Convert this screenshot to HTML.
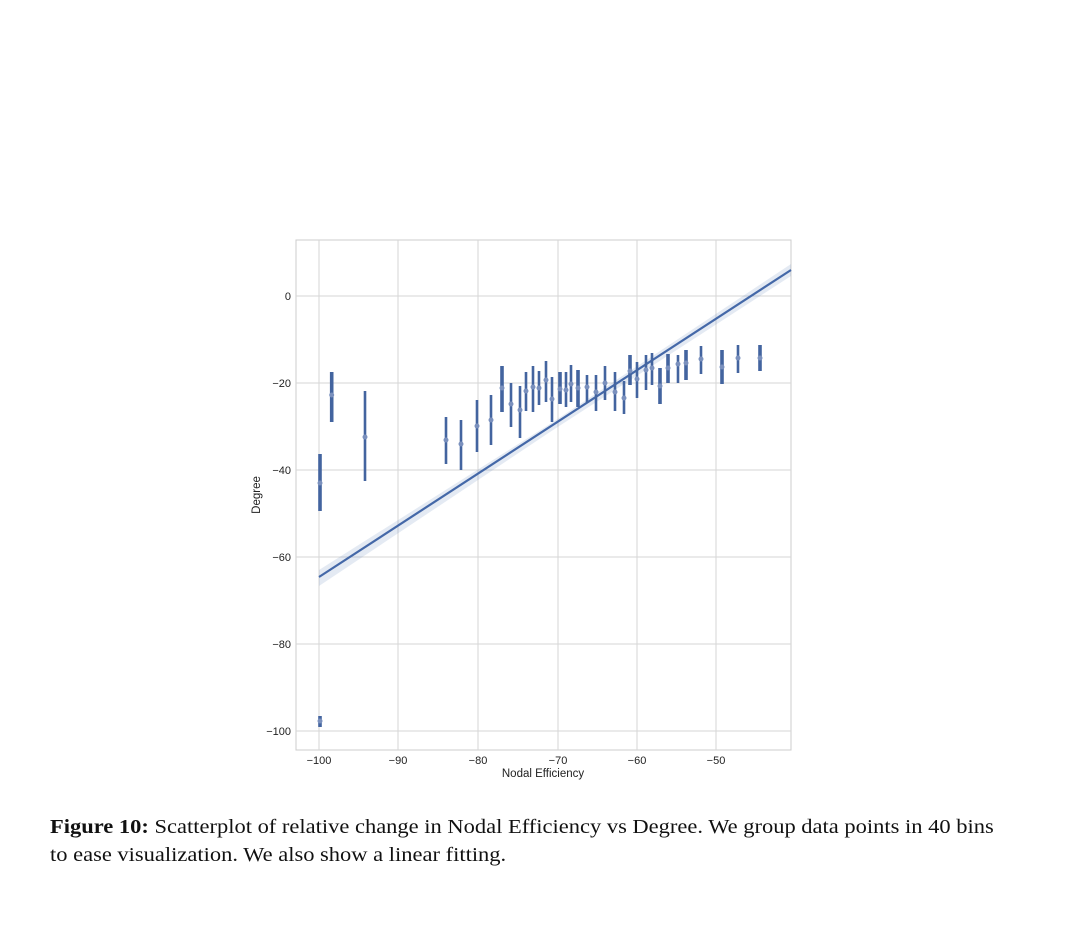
<!DOCTYPE html>
<html><head><style>
body{margin:0;background:#fff;width:1080px;height:935px;overflow:hidden;position:relative}
.cap{position:absolute;left:50px;font-family:"Liberation Serif",serif;font-size:20.5px;color:#111;white-space:nowrap;transform-origin:0 0;transform:scaleX(1.097)}
</style></head><body>
<svg width="1080" height="935" style="position:absolute;left:0;top:0" font-family="Liberation Sans, sans-serif">
<rect x="296" y="240" width="495" height="510" fill="#fff" stroke="#ccc"/>
<g stroke="#d6d6d6" stroke-width="1">
<line x1="319" y1="240" x2="319" y2="750"/><line x1="398" y1="240" x2="398" y2="750"/>
<line x1="478" y1="240" x2="478" y2="750"/><line x1="558" y1="240" x2="558" y2="750"/>
<line x1="637" y1="240" x2="637" y2="750"/><line x1="716" y1="240" x2="716" y2="750"/>
<line x1="296" y1="296" x2="791" y2="296"/><line x1="296" y1="383" x2="791" y2="383"/>
<line x1="296" y1="470" x2="791" y2="470"/><line x1="296" y1="557" x2="791" y2="557"/>
<line x1="296" y1="644" x2="791" y2="644"/><line x1="296" y1="731" x2="791" y2="731"/>
</g>
<g font-size="11" fill="#222" text-anchor="end">
<text x="291" y="300">0</text><text x="291" y="387">−20</text><text x="291" y="474">−40</text>
<text x="291" y="561">−60</text><text x="291" y="648">−80</text><text x="291" y="735">−100</text>
</g>
<g font-size="11" fill="#222" text-anchor="middle">
<text x="319" y="764">−100</text><text x="398" y="764">−90</text><text x="478" y="764">−80</text>
<text x="558" y="764">−70</text><text x="637" y="764">−60</text><text x="716" y="764">−50</text>
<text x="543" y="777" font-size="11.5">Nodal Efficiency</text>
<text transform="translate(260,495) rotate(-90)" font-size="11.5">Degree</text>
</g>
<polygon points="319,570 550,424 791,264 791,276 550,432 319,586" fill="#4c72b0" opacity="0.15"/>
<line x1="319" y1="577" x2="791" y2="270" stroke="#4468a8" stroke-width="2.2"/>
<g stroke="#43649f" fill="#43649f">
<path stroke-width="3.6" d="M320 454V511M320 716V727M331.7 372V422M502 366V412M560 372V404M578 370V407M630 355V385M660 368V404M668 354V383M686 350V380M722 350V384M760 345V371"/>
<path stroke-width="2.6" d="M365 391V481M446 417V464M461 420V470M477 400V452M491 395V445M511 383V427M520 386V438M526 372V411M533 366V412M539 371V405M546 361V402M552 377V422M566 372V407M571 365V402M587 375V403M596 375V411M605 366V400M615 372V411M624 381V414M637 362V398M646 355V390M652 353V385M678 355V383M701 346V374M738 345V373"/>
<g fill="#7a90bd" stroke="none">
<circle cx="320" cy="483" r="2.5"/><circle cx="320" cy="721" r="2.5"/><circle cx="331.7" cy="395" r="2.5"/><circle cx="365" cy="437" r="2.5"/><circle cx="446" cy="440" r="2.5"/><circle cx="461" cy="444" r="2.5"/><circle cx="477" cy="426" r="2.5"/><circle cx="491" cy="420" r="2.5"/><circle cx="502" cy="388" r="2.5"/><circle cx="511" cy="404" r="2.5"/><circle cx="520" cy="410" r="2.5"/><circle cx="526" cy="391" r="2.5"/><circle cx="533" cy="387" r="2.5"/><circle cx="539" cy="388" r="2.5"/><circle cx="546" cy="380" r="2.5"/><circle cx="552" cy="399" r="2.5"/><circle cx="560" cy="389" r="2.5"/><circle cx="566" cy="390" r="2.5"/><circle cx="571" cy="384" r="2.5"/><circle cx="578" cy="388" r="2.5"/><circle cx="587" cy="387" r="2.5"/><circle cx="596" cy="392" r="2.5"/><circle cx="605" cy="383" r="2.5"/><circle cx="615" cy="392" r="2.5"/><circle cx="624" cy="398" r="2.5"/><circle cx="630" cy="371" r="2.5"/><circle cx="637" cy="379" r="2.5"/><circle cx="646" cy="370" r="2.5"/><circle cx="652" cy="368" r="2.5"/><circle cx="660" cy="386" r="2.5"/><circle cx="668" cy="368" r="2.5"/><circle cx="678" cy="364" r="2.5"/><circle cx="686" cy="363" r="2.5"/><circle cx="701" cy="359" r="2.5"/><circle cx="722" cy="367" r="2.5"/><circle cx="738" cy="358" r="2.5"/><circle cx="760" cy="358" r="2.5"/>
</g></g>
</svg>
<div class="cap" style="top:816px"><b>Figure 10:</b> Scatterplot of relative change in Nodal Efficiency vs Degree. We group data points in 40 bins</div>
<div class="cap" style="top:844px">to ease visualization. We also show a linear fitting.</div>
</body></html>
